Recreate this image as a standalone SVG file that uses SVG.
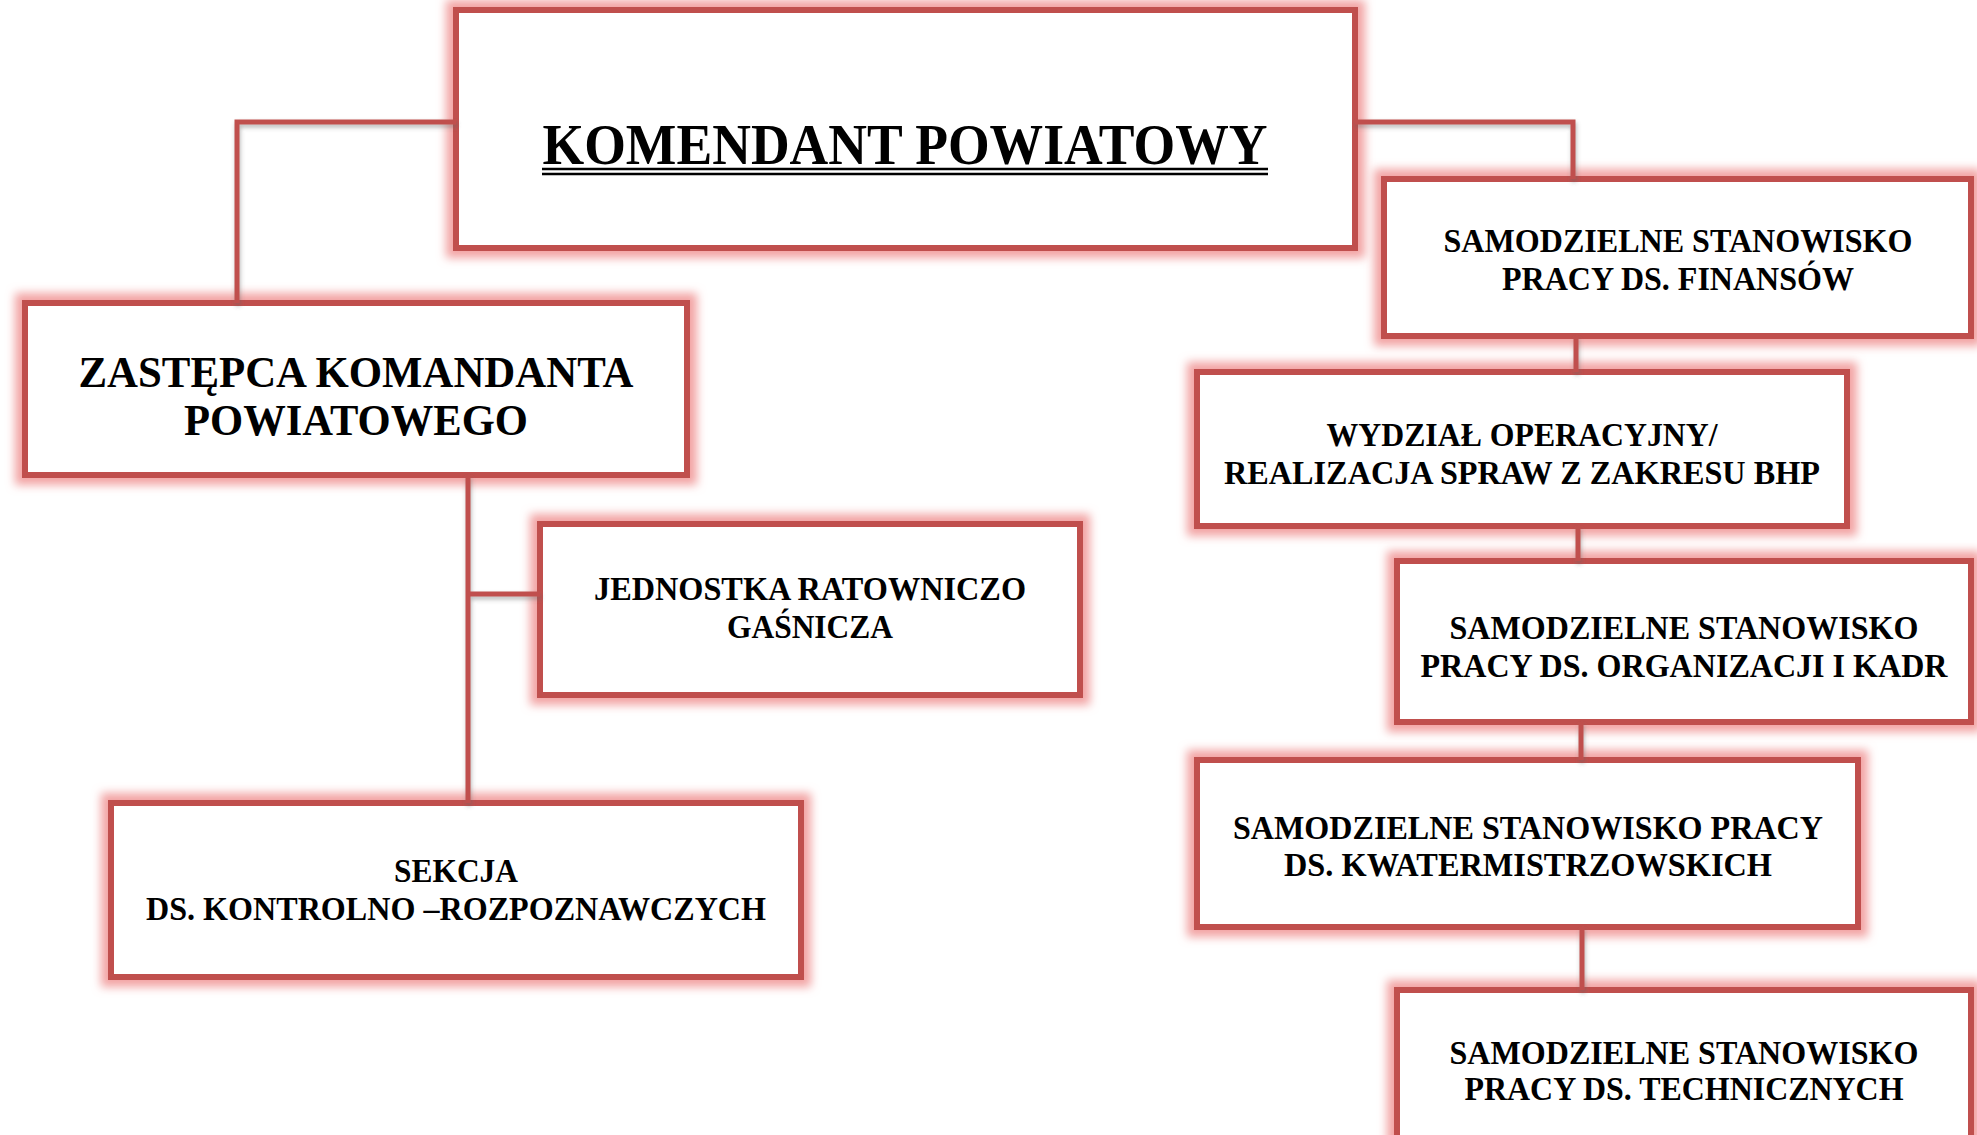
<svg xmlns="http://www.w3.org/2000/svg" width="1977" height="1135" viewBox="0 0 1977 1135">
<defs>
<filter id="glow" x="-15%" y="-25%" width="130%" height="150%">
<feMorphology in="SourceAlpha" operator="dilate" radius="7" result="d"/>
<feGaussianBlur in="d" stdDeviation="5" result="b"/>
<feFlood flood-color="#F2A3A3"/>
<feComposite in2="b" operator="in" result="g"/>
<feMerge><feMergeNode in="g"/><feMergeNode in="SourceGraphic"/></feMerge>
</filter>
<filter id="shadow" x="-20%" y="-20%" width="140%" height="140%">
<feDropShadow dx="1" dy="3" stdDeviation="2" flood-color="#666666" flood-opacity="0.45"/>
</filter>
</defs>
<style>
.box{fill:#FFFFFF;stroke:#C0504D;stroke-width:6}
.conn{fill:none;stroke:#C0504D;stroke-width:5}
text{font-family:"Liberation Serif","Times New Roman",serif;font-weight:bold;fill:#000000;text-anchor:middle}
.s{font-size:33px}
.m{font-size:45px}
.l{font-size:56px}
.ul{stroke:#000000;stroke-width:2.5}
</style>
<rect width="1977" height="1135" fill="#FFFFFF"/>
<g id="komendant">
<rect class="box" x="456" y="10" width="899" height="238" filter="url(#glow)"/>
<text class="l" x="905" y="164" textLength="725" lengthAdjust="spacingAndGlyphs">KOMENDANT POWIATOWY</text>
<line class="ul" x1="542" y1="169" x2="1268" y2="169"/>
<line class="ul" x1="542" y1="174" x2="1268" y2="174"/>
</g>
<g id="zastepca">
<rect class="box" x="25" y="303" width="662" height="172" filter="url(#glow)"/>
<text class="m" x="356" y="387" textLength="555" lengthAdjust="spacingAndGlyphs">ZASTĘPCA KOMANDANTA</text>
<text class="m" x="356" y="435" textLength="344" lengthAdjust="spacingAndGlyphs">POWIATOWEGO</text>
</g>
<g id="jednostka">
<rect class="box" x="540" y="524" width="540" height="171" filter="url(#glow)"/>
<text class="s" x="810" y="600" textLength="432" lengthAdjust="spacingAndGlyphs">JEDNOSTKA RATOWNICZO</text>
<text class="s" x="810" y="638" textLength="166" lengthAdjust="spacingAndGlyphs">GAŚNICZA</text>
</g>
<g id="sekcja">
<rect class="box" x="111" y="803" width="690" height="174" filter="url(#glow)"/>
<text class="s" x="456" y="882" textLength="124" lengthAdjust="spacingAndGlyphs">SEKCJA</text>
<text class="s" x="456" y="920" textLength="620" lengthAdjust="spacingAndGlyphs">DS. KONTROLNO –ROZPOZNAWCZYCH</text>
</g>
<g id="finanse">
<rect class="box" x="1384" y="179" width="587" height="157" filter="url(#glow)"/>
<text class="s" x="1678" y="252" textLength="469" lengthAdjust="spacingAndGlyphs">SAMODZIELNE STANOWISKO</text>
<text class="s" x="1678" y="290" textLength="352" lengthAdjust="spacingAndGlyphs">PRACY DS. FINANSÓW</text>
</g>
<g id="operacyjny">
<rect class="box" x="1197" y="372" width="650" height="154" filter="url(#glow)"/>
<text class="s" x="1522" y="446" textLength="391" lengthAdjust="spacingAndGlyphs">WYDZIAŁ OPERACYJNY/</text>
<text class="s" x="1522" y="484" textLength="596" lengthAdjust="spacingAndGlyphs">REALIZACJA SPRAW Z ZAKRESU BHP</text>
</g>
<g id="kadry">
<rect class="box" x="1397" y="561" width="574" height="161" filter="url(#glow)"/>
<text class="s" x="1684" y="639" textLength="469" lengthAdjust="spacingAndGlyphs">SAMODZIELNE STANOWISKO</text>
<text class="s" x="1684" y="677" textLength="527" lengthAdjust="spacingAndGlyphs">PRACY DS. ORGANIZACJI I KADR</text>
</g>
<g id="kwatermistrz">
<rect class="box" x="1197" y="760" width="661" height="167" filter="url(#glow)"/>
<text class="s" x="1528" y="839" textLength="590" lengthAdjust="spacingAndGlyphs">SAMODZIELNE STANOWISKO PRACY</text>
<text class="s" x="1528" y="876" textLength="488" lengthAdjust="spacingAndGlyphs">DS. KWATERMISTRZOWSKICH</text>
</g>
<g id="techniczne">
<rect class="box" x="1397" y="990" width="574" height="170" filter="url(#glow)"/>
<text class="s" x="1684" y="1064" textLength="469" lengthAdjust="spacingAndGlyphs">SAMODZIELNE STANOWISKO</text>
<text class="s" x="1684" y="1100" textLength="439" lengthAdjust="spacingAndGlyphs">PRACY DS. TECHNICZNYCH</text>
</g>
<g id="connectors" filter="url(#shadow)">
<path class="conn" d="M456,122 H237 V303"/>
<path class="conn" d="M1355,122 H1573 V179"/>
<path class="conn" d="M1576,336 V372"/>
<path class="conn" d="M1578,526 V561"/>
<path class="conn" d="M1581,722 V760"/>
<path class="conn" d="M1582,927 V990"/>
<path class="conn" d="M468,475 V803"/>
<path class="conn" d="M468,594 H540"/>
</g>
</svg>
